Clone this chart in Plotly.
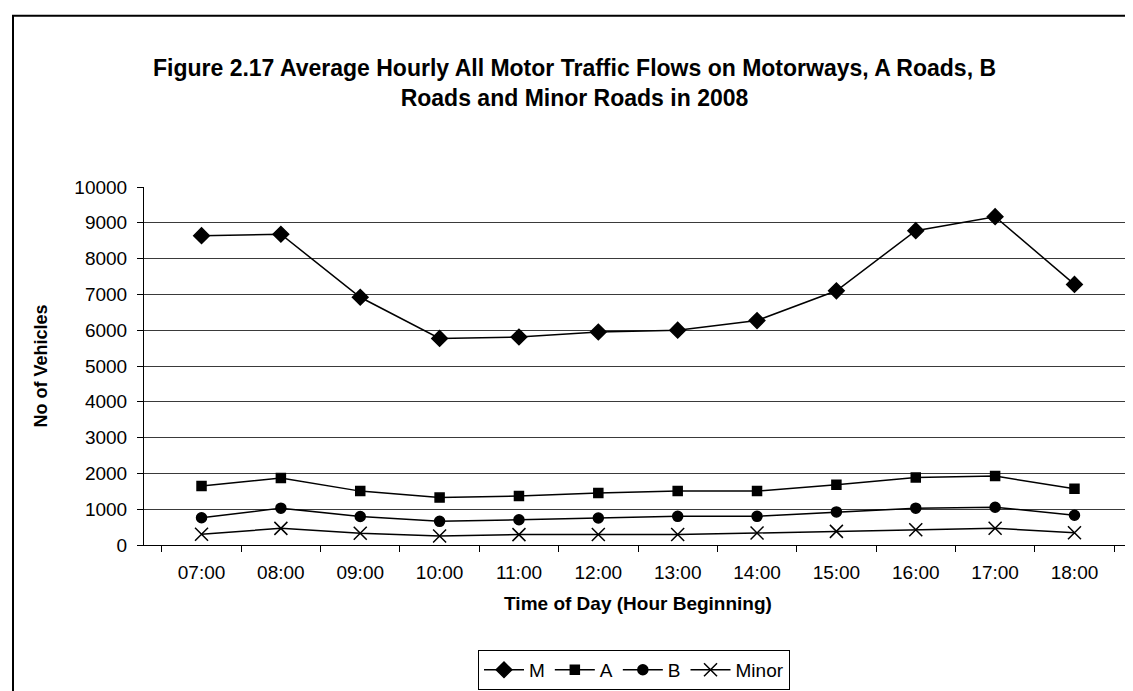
import plotly.graph_objects as go

# data
hours = ["07:00", "08:00", "09:00", "10:00", "11:00", "12:00",
         "13:00", "14:00", "15:00", "16:00", "17:00", "18:00"]
motorways = [8640, 8680, 6920, 5770, 5810, 5950, 6000, 6270, 7100, 8780, 9170, 7280]
a_roads = [1650, 1870, 1505, 1325, 1370, 1455, 1505, 1505, 1685, 1885, 1925, 1570]
b_roads = [760, 1030, 795, 660, 705, 755, 800, 800, 925, 1030, 1055, 830]
minor_roads = [300, 465, 330, 250, 290, 295, 295, 335, 380, 425, 470, 340]

W, H = 1133, 691
ML, MR, MT, MB = 136, 9, 179, 148
PW = W - ML - MR
PH = H - MT - MB


def px_x(p):
    return (p - ML) / PW


def px_y(p):
    return (H - MB - p) / PH


font = "Liberation Sans, Arial, sans-serif"

series = [
    ("M", motorways, "diamond", 12),
    ("A", a_roads, "square", 9),
    ("B", b_roads, "circle", 10),
    ("Minor", minor_roads, "x-thin", 13),
]

fig = go.Figure()
for name, vals, sym, size in series:
    fig.add_trace(go.Scatter(
        x=hours, y=vals, name=name, mode="lines+markers",
        line=dict(color="black", width=1.5),
        marker=dict(symbol=sym, size=size, color="black",
                    line=dict(color="black", width=1.5)),
    ))

fig.update_layout(
    width=W, height=H,
    margin=dict(l=ML, r=MR, t=MT, b=MB),
    paper_bgcolor="white", plot_bgcolor="white",
    font=dict(family=font, size=19, color="black"),
    title=dict(
        text="<b>Figure 2.17 Average Hourly All Motor Traffic Flows on Motorways, A Roads, B<br>"
             "Roads and Minor Roads in 2008</b>",
        x=0.5, xanchor="center", xref="container",
        y=1 - 68 / H, yanchor="middle", yref="container",
        font=dict(size=23, family=font),
    ),
    xaxis=dict(
        title=dict(text="<b>Time of Day (Hour Beginning)</b>", standoff=14,
                   font=dict(size=19)),
        showline=True, linecolor="black", linewidth=1,
        ticks="outside", ticklen=6, tickcolor="black", tickson="boundaries",
        showgrid=False, ticklabelstandoff=10,
    ),
    yaxis=dict(
        title=dict(text="<b>No of Vehicles</b>", standoff=22, font=dict(size=18)),
        range=[0, 10000], dtick=1000, tickformat="d",
        showline=True, linecolor="black", linewidth=1,
        ticks="outside", ticklen=6, tickcolor="black",
        showgrid=True, gridcolor="#3a3a3a", gridwidth=1,
        zeroline=False, ticklabelstandoff=6,
    ),
    legend=dict(
        orientation="h", x=px_x(626), xanchor="center",
        y=px_y(670), yanchor="middle",
        bordercolor="black", borderwidth=1,
        font=dict(size=19), itemwidth=40,
    ),
    shapes=[dict(
        type="rect", xref="paper", yref="paper",
        x0=px_x(5), x1=px_x(1126), y0=px_y(5), y1=px_y(700),
        line=dict(color="black", width=2), fillcolor="rgba(0,0,0,0)",
        layer="below",
    )],
)

fig.write_html("out.html")
